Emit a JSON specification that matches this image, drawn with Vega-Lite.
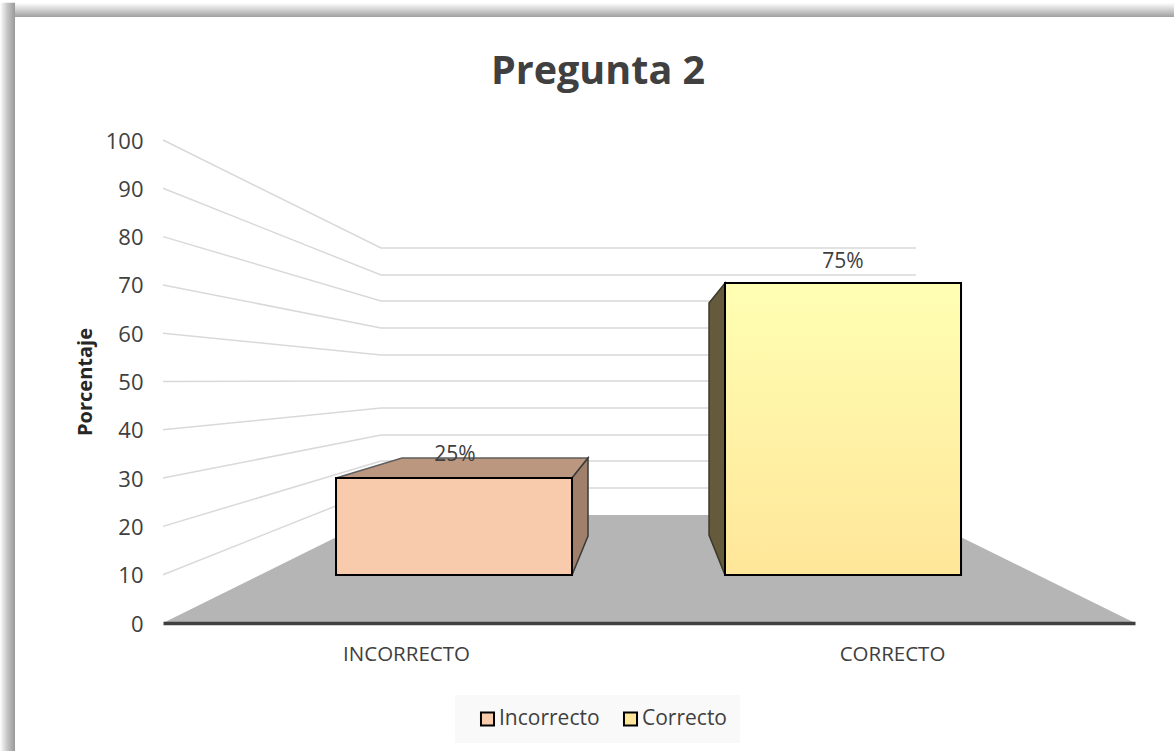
{
"$schema":"https://vega.github.io/schema/vega-lite/v6.json",
"width":972,"height":483,
"autosize":{"type":"none"},
"padding":{"left":163,"top":140,"right":39,"bottom":128},
"background":"#ffffff",
"title":{"text":"Pregunta 2","font":"Open Sans","fontSize":39.5,"fontWeight":"bold","color":"#404040","anchor":"middle","frame":"group","dx":-51,"offset":-90},
"config":{"font":"Open Sans","view":{"stroke":null}},
"datasets":{
"frame":[{"lado":"arriba","x":-0.3354,"x2":2.0802,"y":128.4,"y2":125.47},{"lado":"izquierda","x":-0.3354,"x2":-0.3045,"y":128.4,"y2":-26.5}],
"grid":[
{"g":100,"p":0,"x":0,"y":100},{"g":100,"p":1,"x":0.4486,"y":77.64},{"g":100,"p":2,"x":1.5494,"y":77.64},
{"g":90,"p":0,"x":0,"y":90},{"g":90,"p":1,"x":0.4486,"y":72.05},{"g":90,"p":2,"x":1.5494,"y":72.05},
{"g":80,"p":0,"x":0,"y":80},{"g":80,"p":1,"x":0.4486,"y":66.67},{"g":80,"p":2,"x":1.5494,"y":66.67},
{"g":70,"p":0,"x":0,"y":70},{"g":70,"p":1,"x":0.4486,"y":61.08},{"g":70,"p":2,"x":1.5494,"y":61.08},
{"g":60,"p":0,"x":0,"y":60},{"g":60,"p":1,"x":0.4486,"y":55.49},{"g":60,"p":2,"x":1.5494,"y":55.49},
{"g":50,"p":0,"x":0,"y":50},{"g":50,"p":1,"x":0.4486,"y":50.1},{"g":50,"p":2,"x":1.5494,"y":50.1},
{"g":40,"p":0,"x":0,"y":40},{"g":40,"p":1,"x":0.4486,"y":44.51},{"g":40,"p":2,"x":1.5494,"y":44.51},
{"g":30,"p":0,"x":0,"y":30},{"g":30,"p":1,"x":0.4486,"y":38.92},{"g":30,"p":2,"x":1.5494,"y":38.92},
{"g":20,"p":0,"x":0,"y":20},{"g":20,"p":1,"x":0.4486,"y":33.54},{"g":20,"p":2,"x":1.5494,"y":33.54},
{"g":10,"p":0,"x":0,"y":10},{"g":10,"p":1,"x":0.4486,"y":27.95},{"g":10,"p":2,"x":1.5494,"y":27.95}
],
"floor":[{"x":0,"y":0,"y2":0},{"x":0.4486,"y":22.36,"y2":0},{"x":1.5494,"y":22.36,"y2":0},{"x":2,"y":0,"y2":0}],
"front":[{"serie":"Incorrecto","x":0.356,"x2":0.8416,"y":30.02,"y2":9.94},{"serie":"Correcto","x":1.1564,"x2":1.642,"y":70.39,"y2":9.94}],
"topInc":[{"x":0.356,"y":30.02,"y2":30.02},{"x":0.4918,"y":34.16,"y2":30.02},{"x":0.8416,"y":34.16,"y2":30.02},{"x":0.8745,"y":34.16,"y2":34.16}],
"sideInc":[{"x":0.8416,"y":30.02,"y2":9.94},{"x":0.8745,"y":34.16,"y2":18.01}],
"sideCor":[{"x":1.1235,"y":66.25,"y2":18.22},{"x":1.1564,"y":70.39,"y2":9.94}],
"labels":[{"serie":"Incorrecto","x":0.6008,"y":34.8,"t":"25%"},{"serie":"Correcto","x":1.399,"y":74.8,"t":"75%"}]
},
"data":{"name":"floor"},
"encoding":{
"x":{"field":"x","type":"quantitative","scale":{"domain":[0,2],"nice":false,"zero":false},"axis":{"values":[0.5,1.5],"labelExpr":"datum.value<1?'INCORRECTO':'CORRECTO'","title":null,"grid":false,"ticks":false,"labelPadding":21,"labelFont":"Open Sans","labelFontSize":20.5,"labelColor":"#404040","domainColor":"#404040","domainWidth":3.5,"zindex":1}},
"y":{"field":"y","type":"quantitative","scale":{"domain":[0,100],"nice":false,"zero":false},"axis":{"values":[0,10,20,30,40,50,60,70,80,90,100],"title":"Porcentaje","titleFont":"Open Sans","titleFontSize":20,"titleFontWeight":"bold","titleColor":"#262626","titlePadding":10,"grid":false,"ticks":false,"domain":false,"labelPadding":20,"labelOffset":1,"labelFont":"Open Sans","labelFontSize":22,"labelColor":"#404040"}}
},
"layer":[
{"data":{"name":"frame"},"transform":[{"filter":"datum.lado=='arriba'"}],"mark":{"type":"rect","clip":false,"fill":{"gradient":"linear","x1":0,"y1":0,"x2":0,"y2":1,"stops":[{"offset":0,"color":"#ffffff"},{"offset":0.5,"color":"#d0d0d0"},{"offset":1,"color":"#a0a0a0"}]}},"encoding":{"x":{"field":"x","type":"quantitative"},"x2":{"field":"x2"},"y":{"field":"y","type":"quantitative"},"y2":{"field":"y2"}}},
{"data":{"name":"frame"},"transform":[{"filter":"datum.lado=='izquierda'"}],"mark":{"type":"rect","clip":false,"fill":{"gradient":"linear","x1":0,"y1":0,"x2":1,"y2":0,"stops":[{"offset":0,"color":"#ffffff"},{"offset":0.5,"color":"#c4c4c4"},{"offset":1,"color":"#999999"}]}},"encoding":{"x":{"field":"x","type":"quantitative"},"x2":{"field":"x2"},"y":{"field":"y","type":"quantitative"},"y2":{"field":"y2"}}},
{"data":{"name":"grid"},"mark":{"type":"line","color":"#D9D9D9","strokeWidth":1.5},"encoding":{"detail":{"field":"g"},"order":{"field":"p"}}},
{"mark":{"type":"area","fill":"#B5B5B5","opacity":1},"encoding":{"y2":{"field":"y2"}}},
{"data":{"name":"topInc"},"mark":{"type":"area","fill":"#BC977F","stroke":"#5F5F5F","strokeWidth":1.5},"encoding":{"y2":{"field":"y2"}}},
{"data":{"name":"sideInc"},"mark":{"type":"area","fill":"#A0806A","stroke":"#3A3A3A","strokeWidth":1.5},"encoding":{"y2":{"field":"y2"}}},
{"data":{"name":"sideCor"},"mark":{"type":"area","fill":"#665A3C","stroke":"#3A3A2A","strokeWidth":1.5},"encoding":{"y2":{"field":"y2"}}},
{"data":{"name":"front"},"mark":{"type":"rect","stroke":"#000000","strokeWidth":2},"encoding":{"x":{"field":"x","type":"quantitative"},"x2":{"field":"x2"},"y":{"field":"y","type":"quantitative"},"y2":{"field":"y2"},"color":{"field":"serie","type":"nominal","scale":{"domain":["Incorrecto","Correcto"],"range":["#F8CBAD","#FFE699"]},"legend":{"title":null,"orient":"none","legendX":292,"legendY":555,"direction":"horizontal","columns":2,"symbolType":"square","symbolSize":170,"symbolOffset":9,"symbolStrokeColor":"#000000","symbolStrokeWidth":2,"symbolOpacity":1,"labelFont":"Open Sans","labelFontSize":21,"labelColor":"#404040","labelOffset":1,"columnPadding":11,"padding":13,"fillColor":"#F9F9F9"}}}},
{"data":{"name":"front"},"transform":[{"filter":"datum.serie=='Correcto'"}],"mark":{"type":"rect","stroke":"#000000","strokeWidth":2,"fill":{"gradient":"linear","x1":0,"y1":0,"x2":0,"y2":1,"stops":[{"offset":0,"color":"#FFFFB3"},{"offset":1,"color":"#FFE699"}]}},"encoding":{"x":{"field":"x","type":"quantitative"},"x2":{"field":"x2"},"y":{"field":"y","type":"quantitative"},"y2":{"field":"y2"}}},
{"data":{"name":"labels"},"mark":{"type":"text","font":"Open Sans","fontSize":21,"color":"#404040","baseline":"middle","align":"center"},"encoding":{"text":{"field":"t"}}}
]
}
